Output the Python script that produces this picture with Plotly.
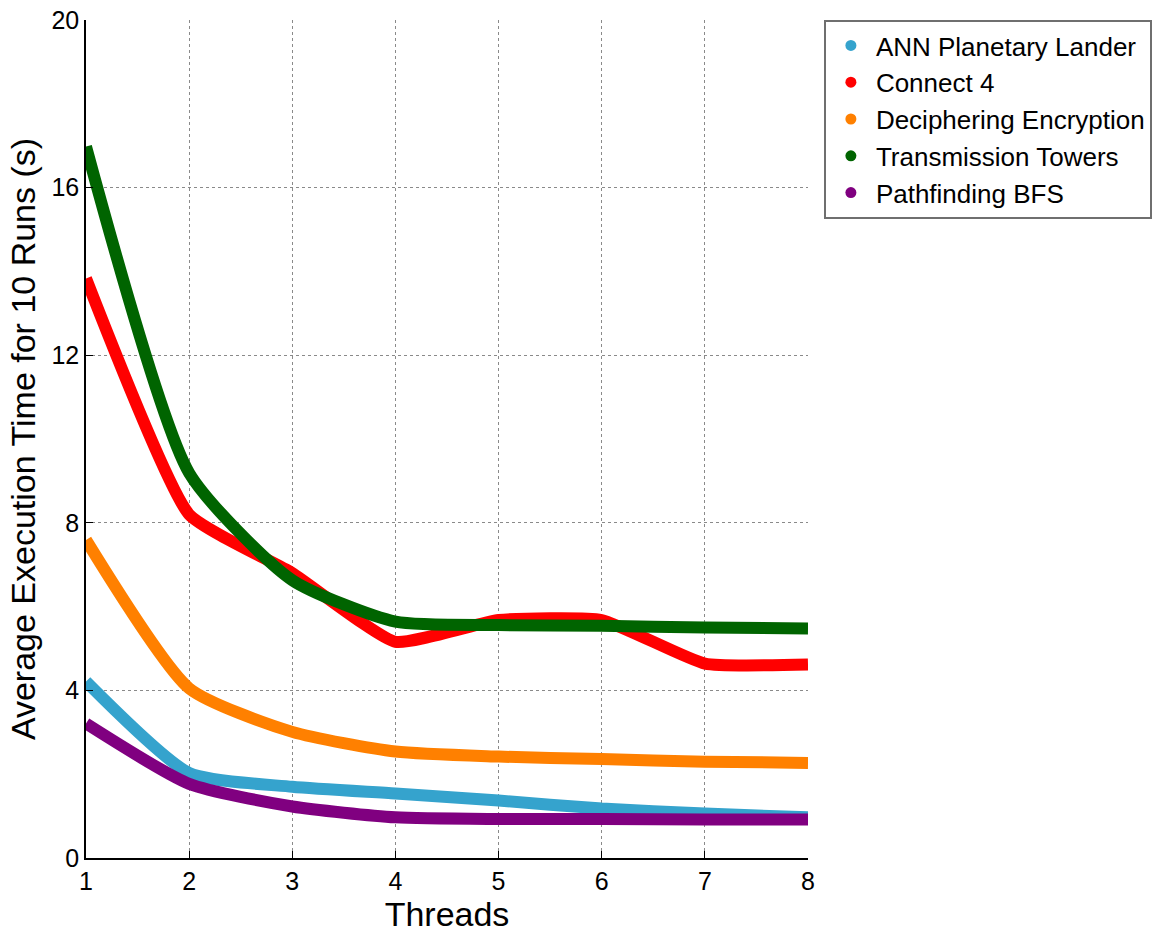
import plotly.graph_objects as go

threads = [1, 2, 3, 4, 5, 6, 7, 8]

ann_lander = [4.21, 2.03, 1.70, 1.54, 1.37, 1.18, 1.06, 0.97]
connect_4 = [13.83, 8.20, 6.80, 5.16, 5.68, 5.68, 4.64, 4.62]
deciphering = [7.59, 4.05, 3.01, 2.54, 2.42, 2.36, 2.30, 2.27]
transmission = [16.98, 9.19, 6.63, 5.64, 5.56, 5.54, 5.50, 5.48]
pathfinding = [3.21, 1.77, 1.23, 0.97, 0.93, 0.93, 0.92, 0.92]

series_names = [
    "ANN Planetary Lander",
    "Connect 4",
    "Deciphering Encryption",
    "Transmission Towers",
    "Pathfinding BFS",
]
series_values = [ann_lander, connect_4, deciphering, transmission, pathfinding]
series_colors = ["#35a3cd", "#ff0000", "#ff8000", "#006400", "#800080"]
series_smoothing = [0.6, 0.45, 0.6, 0.6, 0.6]

y_ticks = [0, 4, 8, 12, 16, 20]

fig = go.Figure()

for name, vals, color, sm in zip(series_names, series_values, series_colors, series_smoothing):
    fig.add_trace(go.Scatter(
        x=threads, y=vals, mode="lines", name=name,
        line=dict(color=color, width=12, shape="spline", smoothing=sm),
        showlegend=False,
    ))

# legend entries drawn as round dots
for name, color in zip(series_names, series_colors):
    fig.add_trace(go.Scatter(
        x=[None], y=[None], mode="markers", name=name,
        marker=dict(color=color, size=11, symbol="circle"),
    ))

tick_font = dict(family="Liberation Sans, Arial", size=25, color="black")
title_font = dict(size=34, family="Liberation Sans, Arial", color="black")

fig.update_layout(
    width=1164, height=936,
    margin=dict(l=86, r=354, t=20, b=78),
    paper_bgcolor="white", plot_bgcolor="white",
    font=dict(family="Liberation Sans, Arial, Helvetica", color="black"),
    legend=dict(
        x=1.022, y=1.0, xanchor="left", yanchor="top",
        bordercolor="#6f6f6f", borderwidth=2, bgcolor="white",
        font=dict(size=26, family="Liberation Sans, Arial"),
        itemwidth=40,
    ),
    xaxis=dict(
        range=[1, 8], tickvals=threads, ticktext=[str(t) for t in threads],
        showgrid=True, gridcolor="#8a8a8a", griddash="dot", gridwidth=1,
        showline=True, linecolor="black", linewidth=1.5,
        ticks="inside", ticklen=7, tickcolor="black",
        tickfont=tick_font, zeroline=False, automargin=False,
        title=dict(text="Threads", font=title_font, standoff=8),
    ),
    yaxis=dict(
        range=[0, 20], tickvals=y_ticks,
        showgrid=True, gridcolor="#8a8a8a", griddash="dot", gridwidth=1,
        showline=True, linecolor="black", linewidth=1.5,
        ticks="inside", ticklen=7, tickcolor="black",
        tickfont=tick_font, zeroline=False, automargin=False,
        title=dict(text="Average Execution Time for 10 Runs (s)", font=title_font, standoff=6),
    ),
)

fig.write_html("out.html")
